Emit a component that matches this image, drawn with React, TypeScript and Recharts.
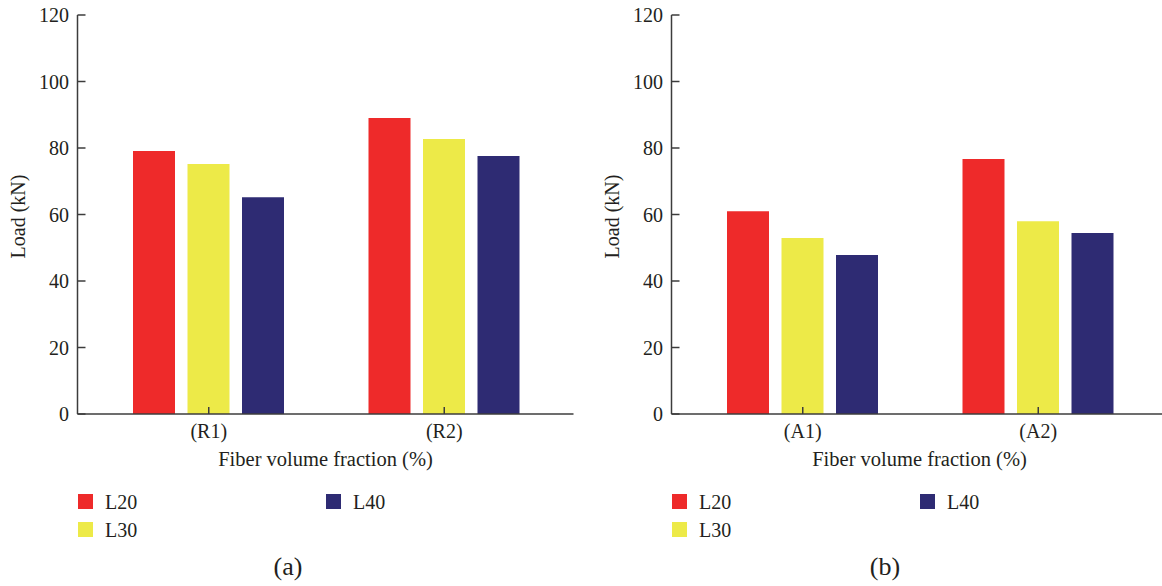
import React from 'react';
import { BarChart, Bar, XAxis, YAxis } from 'recharts';

// Series shared by both panels
const seriesNames = ['L20', 'L30', 'L40'];
const seriesColors = ['#EE2A2A', '#EDEA48', '#2E2B73'];
const yTicks = [0, 20, 40, 60, 80, 100, 120];

// Panel (a)
const categoriesA = ['(R1)', '(R2)'];
const l20A = [79.1, 89.0];
const l30A = [75.2, 82.7];
const l40A = [65.2, 77.6];

// Panel (b)
const categoriesB = ['(A1)', '(A2)'];
const l20B = [61.0, 76.7];
const l30B = [52.9, 58.0];
const l40B = [47.8, 54.4];

const FONT = 'Liberation Serif, Times New Roman, serif';
const INK = '#231f20';
const AXIS = '#3c3c3c';

const buildRows = (cats: string[], a: number[], b: number[], c: number[]) =>
  cats.map((cat, i) => ({ cat, L20: a[i], L30: b[i], L40: c[i] }));

const rowsA = buildRows(categoriesA, l20A, l30A, l40A);
const rowsB = buildRows(categoriesB, l20B, l30B, l40B);

const axisLine = { stroke: AXIS, strokeWidth: 1.5 };
const tickText = { fontSize: 20, fill: INK, fontFamily: FONT, style: { fontFamily: FONT } };

const YTitle = (props: any) => {
  const vb = props.viewBox ?? { x: 17.5, y: 15, width: 60, height: 399 };
  const cx = vb.x + 7.5;
  const cy = vb.y + vb.height / 2 + 2;
  return (
    <text
      x={cx}
      y={cy}
      transform={`rotate(-90 ${cx} ${cy})`}
      textAnchor="middle"
      style={{ fontFamily: FONT }}
      fontSize={20}
      fill={INK}
    >
      Load (kN)
    </text>
  );
};

const XTitle = (props: any) => {
  const vb = props.viewBox ?? { x: 77.5, y: 414, width: 496, height: 60 };
  return (
    <text
      x={vb.x + vb.width / 2}
      y={vb.y + 52}
      textAnchor="middle"
      style={{ fontFamily: FONT }}
      fontSize={20.5}
      fill={INK}
    >
      Fiber volume fraction (%)
    </text>
  );
};

type Row = { cat: string; L20: number; L30: number; L40: number };

function Panel({ rows }: { rows: Row[] }) {
  return (
    <BarChart
      width={594}
      height={586}
      data={rows}
      margin={{ top: 15, right: 20.5, bottom: 112, left: 17.5 }}
      barSize={42}
      barGap={12.5}
      style={{ fontFamily: FONT }}
    >
      <XAxis
        xAxisId="top"
        dataKey="cat"
        orientation="top"
        height={0}
        tick={false}
        tickLine={false}
        axisLine={axisLine}
      />
      <XAxis
        xAxisId="main"
        dataKey="cat"
        height={60}
        padding={{ left: 13.5, right: 11.5 }}
        tickSize={-7}
        tickMargin={17}
        interval={0}
        tick={tickText}
        tickLine={{ stroke: AXIS, strokeWidth: 1.5 }}
        axisLine={axisLine}
        label={XTitle}
      />
      <YAxis
        yAxisId="main"
        domain={[0, 120]}
        ticks={yTicks}
        interval={0}
        width={60}
        tickSize={-8}
        tickMargin={16.5}
        tick={tickText}
        tickLine={{ stroke: AXIS, strokeWidth: 1.5 }}
        axisLine={axisLine}
        label={YTitle}
      />
      <YAxis
        yAxisId="right"
        orientation="right"
        domain={[0, 120]}
        width={0}
        tick={false}
        tickLine={false}
        axisLine={axisLine}
      />
      {seriesNames.map((name, i) => (
        <Bar
          key={name}
          dataKey={name}
          name={name}
          fill={seriesColors[i]}
          xAxisId="main"
          yAxisId="main"
          isAnimationActive={false}
        />
      ))}
    </BarChart>
  );
}

// Legend swatches laid out in two rows, filled column by column
function LegendBlock({ ox }: { ox: number }) {
  return (
    <g>
      {seriesNames.map((name, i) => {
        const col = Math.floor(i / 2);
        const row = i % 2;
        const sx = ox + 78 + col * 248;
        const sy = 494 + row * 28;
        return (
          <g key={name}>
            <rect x={sx} y={sy} width={15} height={15} fill={seriesColors[i]} />
            <text x={sx + 27} y={sy + 15} fontSize={20} fill={INK}>
              {name}
            </text>
          </g>
        );
      })}
    </g>
  );
}

export default function App() {
  return (
    <div
      style={{
        position: 'absolute',
        left: 0,
        top: 0,
        width: 1162,
        height: 586,
        overflow: 'hidden',
        background: '#fff',
        fontFamily: FONT,
      }}
    >
      <div style={{ position: 'absolute', left: 0, top: 0 }}>
        <Panel rows={rowsA} />
      </div>
      <div style={{ position: 'absolute', left: 594, top: 0 }}>
        <Panel rows={rowsB} />
      </div>
      <svg
        width={1162}
        height={586}
        style={{ position: 'absolute', left: 0, top: 0, pointerEvents: 'none', fontFamily: FONT }}
      >
        <LegendBlock ox={0} />
        <LegendBlock ox={594} />
        <text x={288} y={575} textAnchor="middle" fontSize={26} fill={INK}>
          (a)
        </text>
        <text x={885} y={575} textAnchor="middle" fontSize={26} fill={INK}>
          (b)
        </text>
      </svg>
    </div>
  );
}
